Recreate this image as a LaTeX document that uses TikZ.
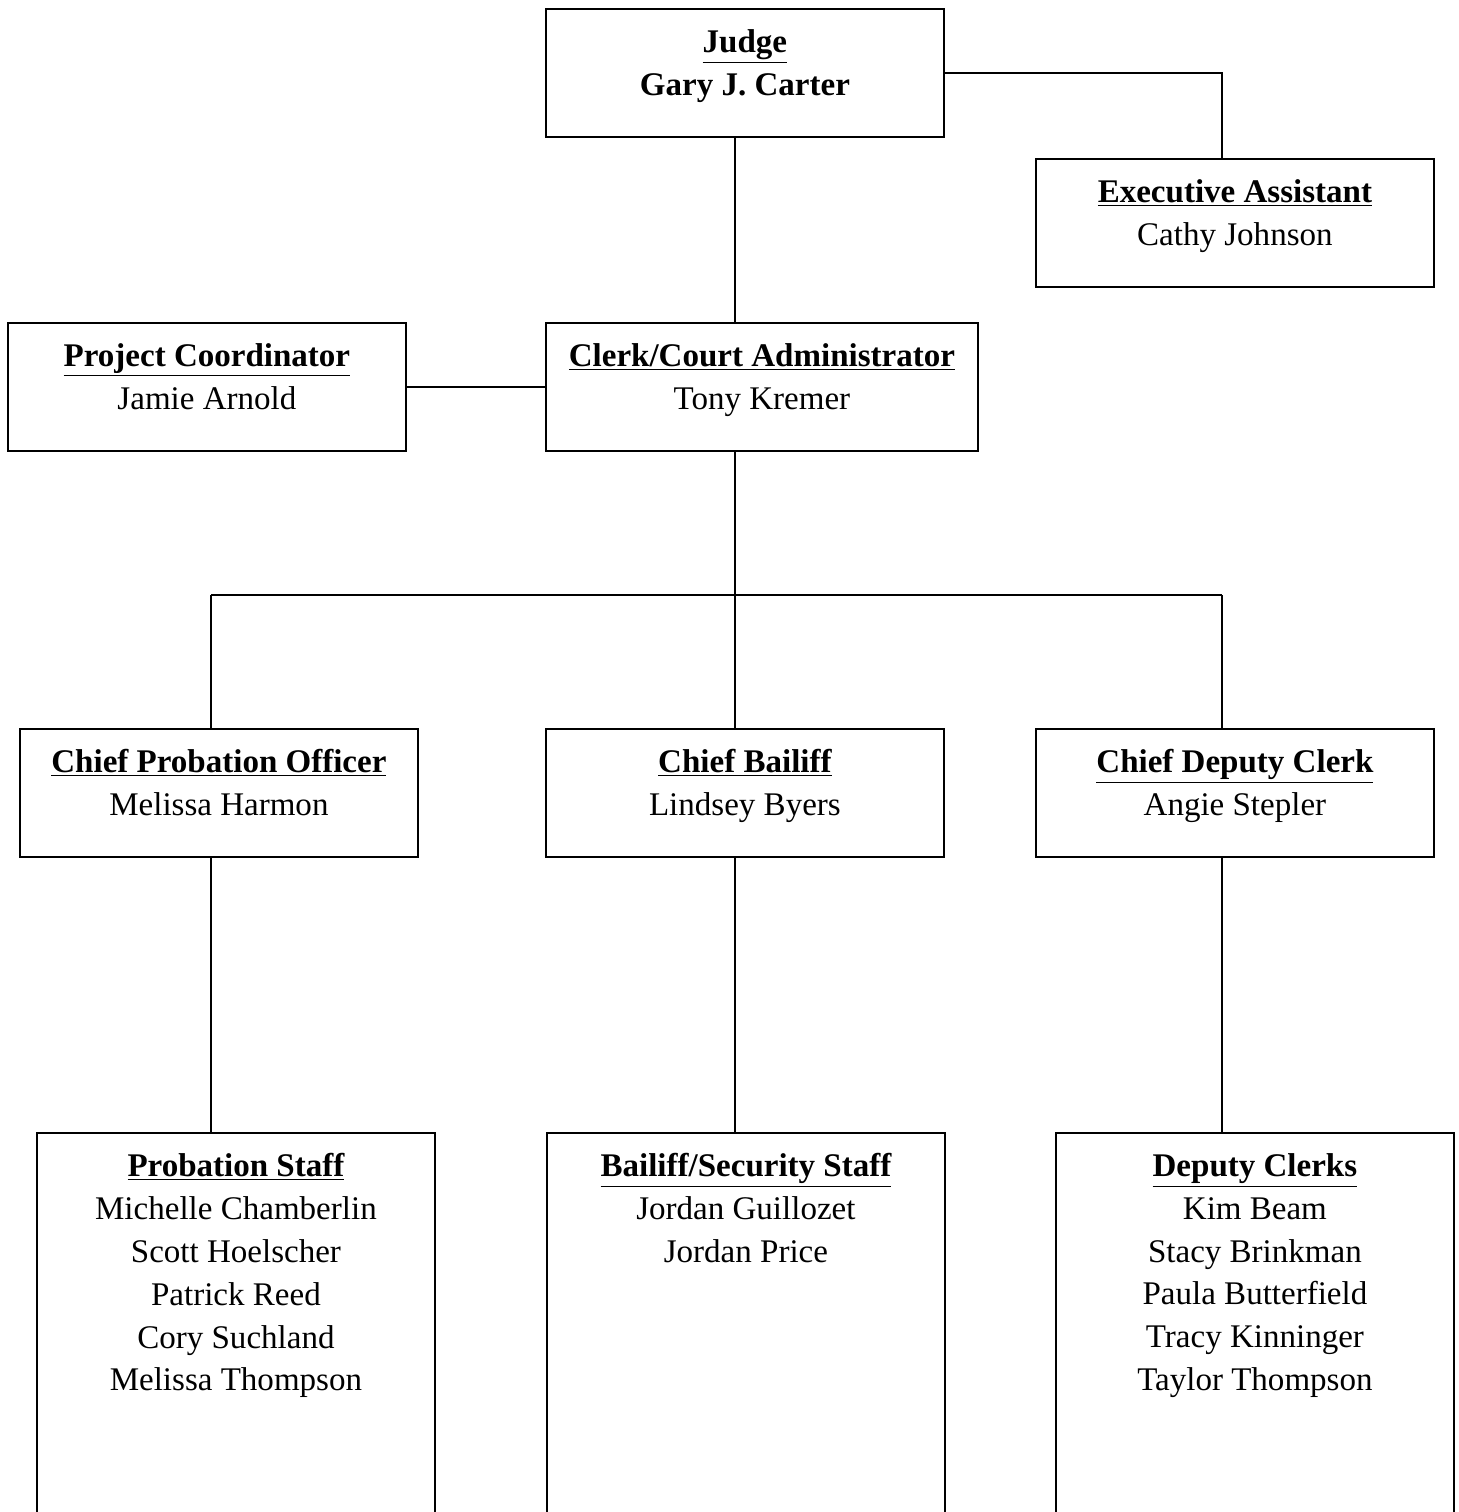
\documentclass[tikz,border=0pt]{standalone}
\usepackage{fontspec}
\setmainfont{Liberation Serif}
\usetikzlibrary{positioning}

\tikzset{
  box/.style={draw, line width=1.1pt, minimum width=7.96cm, minimum height=2.56cm, anchor=north west, inner sep=0pt},
  txt/.style={align=center, anchor=north, inner sep=0pt, font=\fontsize{18.8}{24.4}\selectfont},
  link/.style={line width=1.1pt}
}
\newcommand{\role}[1]{\textbf{\underline{#1}}}

\begin{document}
\begin{tikzpicture}[x=0.02cm, y=-0.02cm]
			\clip (0,0) rectangle (1458,1512);
			% Cajas
			\node[box] (judge) at (545,8) {};
			\node[box] (exec) at (1035,158) {};
			\node[box] (proj) at (7,322) {};
			\node[box, minimum width=8.64cm] (clerk) at (545,322) {};
			\node[box] (cpo) at (19,728) {};
			\node[box] (cbail) at (545,728) {};
			\node[box] (cdep) at (1035,728) {};
			\node[box, minimum height=8.2cm] (probstaff) at (36,1132) {};
			\node[box, minimum height=8.2cm] (bailstaff) at (546,1132) {};
			\node[box, minimum height=8.2cm] (depstaff) at (1055,1132) {};
			
			% Textos
			\node[txt, below=0.42cm of judge.north] (judgetxt) {\role{Judge}\\\textbf{Gary J. Carter}};
			\node[txt, below=0.42cm of exec.north] (exectxt) {\role{Executive Assistant}\\Cathy Johnson};
			\node[txt, below=0.42cm of proj.north] (projtxt) {\role{Project Coordinator}\\Jamie Arnold};
			\node[txt, below=0.42cm of clerk.north] (clerktxt) {\role{Clerk/Court Administrator}\\Tony Kremer};
			\node[txt, below=0.42cm of cpo.north] (cpotxt) {\role{Chief Probation Officer}\\Melissa Harmon};
			\node[txt, below=0.42cm of cbail.north] (cbailtxt) {\role{Chief Bailiff}\\Lindsey Byers};
			\node[txt, below=0.42cm of cdep.north] (cdeptxt) {\role{Chief Deputy Clerk}\\Angie Stepler};
			\node[txt, below=0.42cm of probstaff.north] (probtxt) {\role{Probation Staff}\\Michelle Chamberlin\\Scott Hoelscher\\Patrick Reed\\Cory Suchland\\Melissa Thompson};
			\node[txt, below=0.42cm of bailstaff.north] (bailtxt) {\role{Bailiff/Security Staff}\\Jordan Guillozet\\Jordan Price};
			\node[txt, below=0.42cm of depstaff.north] (deptxt) {\role{Deputy Clerks}\\Kim Beam\\Stacy Brinkman\\Paula Butterfield\\Tracy Kinninger\\Taylor Thompson};
			
			% Coordenadas de las ramas
			\coordinate (lcol) at (211,595);
			\coordinate (trunk) at (735,595);
			\coordinate (rcol) at (1222,595);
			
			% Conectores
			\draw[link] (judge.east) -| (exec.north -| rcol);
			\draw[link] (judge.south -| trunk) -- (clerk.north -| trunk);
			\draw[link] (proj.east) -- (clerk.west);
			\draw[link] (clerk.south -| trunk) -- (trunk);
			\draw[link] (lcol) -- (rcol);
			\draw[link] (lcol) -- (cpo.north -| lcol);
			\draw[link] (trunk) -- (cbail.north -| trunk);
			\draw[link] (rcol) -- (cdep.north -| rcol);
			\draw[link] (cpo.south -| lcol) -- (probstaff.north -| lcol);
			\draw[link] (cbail.south -| trunk) -- (bailstaff.north -| trunk);
			\draw[link] (cdep.south -| rcol) -- (depstaff.north -| rcol);
		\end{tikzpicture}
\end{document}
